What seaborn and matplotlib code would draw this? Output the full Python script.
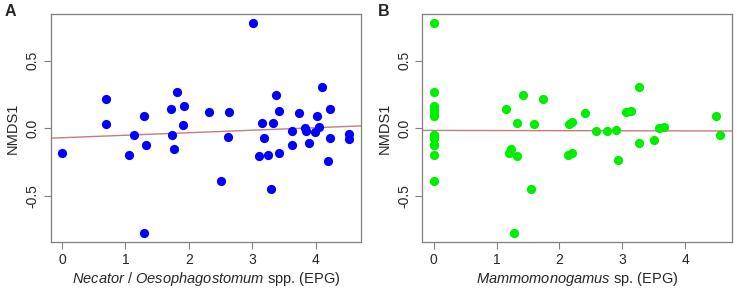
import numpy as np
import pandas as pd
import matplotlib
matplotlib.use("Agg")
import matplotlib.pyplot as plt
import seaborn as sns

# Panel A data: Necator/Oesophagostomum spp. (EPG) vs NMDS1
necator_epg = [0.005, 0.70, 0.70, 1.06, 1.14, 1.29, 1.30, 1.33, 1.72, 1.73, 1.77,
               1.81, 1.91, 1.92, 2.32, 2.50, 2.61, 2.63, 3.01, 3.11, 3.15, 3.18,
               3.24, 3.29, 3.33, 3.37, 3.42, 3.42, 3.63, 3.63, 3.73, 3.83, 3.84,
               3.89, 3.98, 4.02, 4.05, 4.09, 4.19, 4.22, 4.23, 4.52, 4.53]
nmds1_a = [-0.185, 0.217, 0.030, -0.195, -0.052, -0.778, 0.091, -0.124, 0.143, -0.050,
           -0.151, 0.269, 0.025, 0.163, 0.123, -0.393, -0.064, 0.118, 0.782, -0.205,
           0.037, -0.070, -0.195, -0.452, 0.042, 0.247, 0.128, -0.180, -0.020, -0.124,
           0.116, 0.005, -0.020, -0.106, -0.025, 0.093, 0.012, 0.304, -0.240, 0.143,
           -0.074, -0.044, -0.081]

# Panel B data: Mammomonogamus sp. (EPG) vs NMDS1 (some points overlap at 0)
mammo_epg = [0, 0, 0, 0, 0, 0, 0, 0, 0, 0, 0, 0, 0, 0, 0,
             1.15, 1.42, 1.74, 1.33, 1.59, 1.23, 1.20, 1.32, 1.55, 1.28,
             2.15, 2.20, 2.41, 2.58, 2.76, 2.90, 3.06, 3.14, 3.26, 3.27,
             3.50, 3.58, 3.66, 2.14, 2.20, 2.93, 4.50, 4.56]
nmds1_b = [0.782, 0.271, 0.167, 0.143, 0.119, 0.091, -0.050, -0.052, -0.064, -0.070,
           -0.074, -0.124, -0.124, -0.195, -0.393,
           0.145, 0.247, 0.219, 0.039, 0.030, -0.153, -0.185, -0.205, -0.452, -0.778,
           0.030, 0.044, 0.116, -0.020, -0.020, -0.015, 0.118, 0.128, 0.304, -0.106,
           -0.084, 0.005, 0.010, -0.198, -0.180, -0.237, 0.093, -0.047]

x_ticks = [0, 1, 2, 3, 4]
y_ticks = [-0.5, 0.0, 0.5]
y_tick_labels = ["-0.5", "0.0", "0.5"]

sns.set_style("white")
plt.rcParams['font.family'] = ['Liberation Sans', 'DejaVu Sans']
plt.rcParams['mathtext.fontset'] = 'custom'
plt.rcParams['mathtext.it'] = 'Liberation Sans:italic'
plt.rcParams['mathtext.rm'] = 'Liberation Sans'

fig = plt.figure(figsize=(7.37, 2.88), dpi=100)
axA = fig.add_axes([0.0688, 0.1608, 0.4210, 0.7895])
axB = fig.add_axes([0.5730, 0.1608, 0.4198, 0.7895])

line_color = '#c47c7c'
edge = '#7f7f7f'

def draw(ax, x, y, color, xlabel):
    df = pd.DataFrame({'x': x, 'y': y})
    sns.scatterplot(data=df, x='x', y='y', ax=ax, color=color, s=44,
                    edgecolor=color, linewidth=0, zorder=3)
    m, b = np.polyfit(df['x'], df['y'], 1)
    ax.axline((0, b), slope=m, color=line_color, lw=1.0, zorder=2)
    xr = max(x) - min(x)
    ax.set_xlim(min(x) - 0.04 * xr, max(x) + 0.04 * xr)
    ax.set_ylim(-0.84, 0.845)
    ax.set_xticks(x_ticks)
    ax.set_xticklabels([str(t) for t in x_ticks])
    ax.set_yticks(y_ticks)
    ax.set_yticklabels(y_tick_labels, rotation=90, va='center')
    ax.tick_params(axis='both', direction='out', length=5, width=0.8,
                   color=edge, labelsize=10, pad=3, left=True, bottom=True)
    for sp in ax.spines.values():
        sp.set_color(edge)
        sp.set_linewidth(0.9)
    ax.set_xlabel(xlabel, fontsize=10.5, labelpad=2)
    ax.set_ylabel('NMDS1', fontsize=10.5, labelpad=4)

draw(axA, necator_epg, nmds1_a, '#0000ff',
     r'$\mathit{Necator}$ / $\mathit{Oesophagostomum}$ spp. (EPG)')
draw(axB, mammo_epg, nmds1_b, '#00ee00',
     r'$\mathit{Mammomonogamus}$ sp. (EPG)')

fig.text(5 / 737, 1 - 12 / 288, 'A', fontsize=11.5, fontweight='bold',
         ha='left', va='center')
fig.text(378 / 737, 1 - 12 / 288, 'B', fontsize=11.5, fontweight='bold',
         ha='left', va='center')

fig.savefig('out.png', dpi=100)
